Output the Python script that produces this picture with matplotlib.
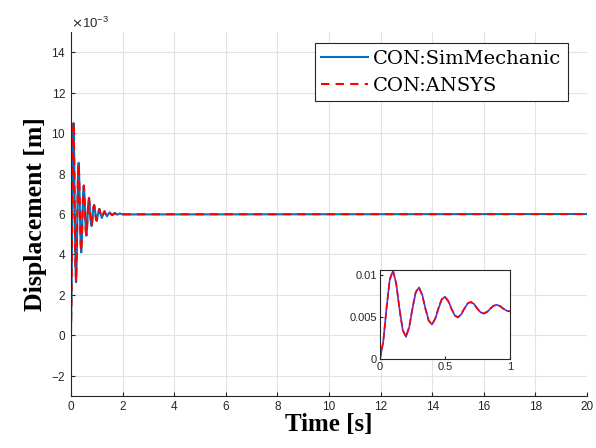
import numpy as np
import matplotlib.pyplot as plt
from matplotlib.ticker import ScalarFormatter

plt.rcParams['font.family'] = ['Liberation Sans', 'DejaVu Sans']

# ---------- DATA (displacement in mm -> scaled to m) ----------
t_fine = [0.000, 0.025, 0.050, 0.075, 0.100, 0.125, 0.150, 0.175, 0.200, 0.225,
          0.250, 0.275, 0.300, 0.325, 0.350, 0.375, 0.400, 0.425, 0.450, 0.475,
          0.500, 0.525, 0.550, 0.575, 0.600, 0.625, 0.650, 0.675, 0.700, 0.725,
          0.750, 0.775, 0.800, 0.825, 0.850, 0.875, 0.900, 0.925, 0.950, 0.975,
          1.000]
sim_fine = [0.00, 2.05, 6.00, 9.42, 10.50, 8.96, 6.00, 3.44, 2.63, 3.78,
            6.00, 7.92, 8.53, 7.66, 6.00, 4.56, 4.10, 4.75, 6.00, 7.08,
            7.42, 6.94, 6.00, 5.19, 4.93, 5.30, 6.00, 6.61, 6.80, 6.53,
            6.00, 5.54, 5.40, 5.60, 6.00, 6.34, 6.45, 6.30, 6.00, 5.74,
            5.66]
ansys_fine = [0.00, 2.10, 6.10, 9.50, 10.55, 8.90, 5.90, 3.40, 2.65, 3.85,
              6.10, 7.98, 8.50, 7.58, 5.92, 4.55, 4.15, 4.82, 6.08, 7.12,
              7.38, 6.86, 5.94, 5.18, 4.97, 5.36, 6.05, 6.63, 6.77, 6.47,
              5.96, 5.54, 5.43, 5.65, 6.04, 6.35, 6.43, 6.26, 5.97, 5.74,
              5.68]
t_tail = [1.05, 1.10, 1.15, 1.20, 1.25, 1.30, 1.35, 1.40, 1.45, 1.50,
          1.55, 1.60, 1.65, 1.70, 1.75, 1.80, 1.85, 1.90, 1.95, 2.00, 20.0]
sim_tail = [6.00, 6.25, 6.00, 5.81, 6.00, 6.14, 6.00, 5.89, 6.00, 6.08,
            6.00, 5.94, 6.00, 6.05, 6.00, 5.97, 6.00, 6.03, 6.00, 5.98, 6.00]
ansys_tail = [6.00, 6.25, 6.00, 5.82, 6.00, 6.13, 6.00, 5.90, 6.00, 6.07,
              6.00, 5.95, 6.00, 6.04, 6.00, 5.97, 6.00, 6.02, 6.00, 5.99, 6.00]

t = np.array(t_fine + t_tail)
sim = np.array(sim_fine + sim_tail) * 1e-3
ansys = np.array(ansys_fine + ansys_tail) * 1e-3

xticks = np.arange(0, 21, 2)
yticks = np.arange(-2, 15, 2) * 1e-3

# ---------- PLOT ----------
fig = plt.figure(figsize=(5.96, 4.48), dpi=100)
ax = fig.add_axes([0.119, 0.116, 0.866, 0.8125])

ax.plot(t, sim, color='#0072BD', lw=1.5, label='CON:SimMechanic')
ax.plot(t, ansys, color='#FF0000', lw=1.5, ls=(0, (4, 3)), label='CON:ANSYS')

ax.set_xlim(0, 20)
ax.set_ylim(-3e-3, 15e-3)
ax.set_xticks(xticks)
ax.set_yticks(yticks)
ax.grid(True, color='#e3e3e3', lw=0.8)
ax.set_axisbelow(True)
for s in ['top', 'right']:
    ax.spines[s].set_visible(False)
for s in ['left', 'bottom']:
    ax.spines[s].set_color('#262626')
ax.tick_params(direction='in', labelsize=8.5, colors='#262626', length=3)

fmt = ScalarFormatter(useMathText=True)
fmt.set_powerlimits((-3, -3))
ax.yaxis.set_major_formatter(fmt)
ax.yaxis.get_offset_text().set_fontsize(9.5)
ax.yaxis.get_offset_text().set_color('#262626')

ax.set_xlabel('Time [s]', fontsize=18, fontweight='bold', family='Liberation Serif', labelpad=0)
ax.set_ylabel('Displacement [m]', fontsize=18.5, fontweight='bold', family='Liberation Serif', labelpad=3)

leg = ax.legend(loc='upper right', bbox_to_anchor=(0.963, 0.970), borderaxespad=0,
                prop={'family': 'DejaVu Serif', 'size': 14},
                frameon=True, fancybox=False, framealpha=1, edgecolor='#262626',
                handlelength=2.4, borderpad=0.35, labelspacing=0.45, handletextpad=0.25)
leg.get_frame().set_linewidth(0.8)

# Inset: first second zoomed
ins = fig.add_axes([0.6376, 0.1987, 0.218, 0.1987])
ins.plot(t_fine, np.array(sim_fine) * 1e-3, color='#3a3aff', lw=1.2)
ins.plot(t_fine, np.array(ansys_fine) * 1e-3, color='#ff0000', lw=1.2, ls=(0, (4, 2)))
ins.set_xlim(0, 1)
ins.set_ylim(0, 0.0106)
ins.set_xticks([0, 0.5, 1])
ins.set_xticklabels(['0', '0.5', '1'])
ins.set_yticks([0, 0.005, 0.01])
ins.set_yticklabels(['0', '0.005', '0.01'])
ins.tick_params(direction='in', labelsize=8, colors='#262626', length=2, pad=2)
for s in ins.spines.values():
    s.set_color('#262626')

plt.savefig('out.png', dpi=100)
